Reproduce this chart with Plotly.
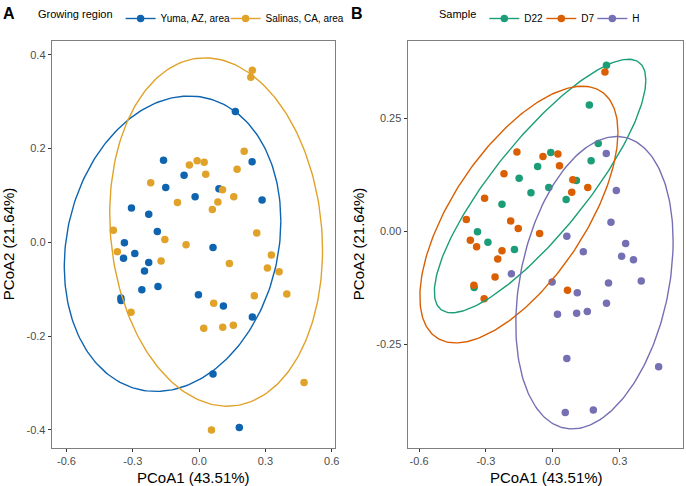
import numpy as np
import plotly.graph_objects as go

# ---------------- data (PCoA coordinates) ----------------
# Salinas, CA samples
sal_pc1 = [0.241, 0.234, 0.204, -0.044, -0.009, 0.023, 0.030, 0.172, -0.219, 0.106,
           0.157, -0.098, 0.085, 0.060, -0.388, 0.261, -0.155, -0.059, -0.370, 0.327,
           -0.172, 0.137, 0.309, 0.362, 0.397, 0.250, -0.308, 0.066, 0.021, 0.107,
           0.155, 0.475, 0.056]
sal_pc2 = [0.367, 0.352, 0.194, 0.165, 0.174, 0.171, 0.145, 0.156, 0.127, 0.112,
           0.097, 0.085, 0.086, 0.070, 0.026, 0.020, 0.006, -0.005, -0.020, -0.027,
           -0.040, -0.045, -0.055, -0.063, -0.110, -0.114, -0.149, -0.130, -0.183, -0.181,
           -0.177, -0.299, -0.400]
sal_sample = ["D22", "D7", "D22", "D7", "D22", "D7", "D7", "D22", "D7", "D22",
              "D7", "D22", "D7", "D22", "D7", "H", "D7", "D7", "D7", "H",
              "D22", "H", "H", "H", "H", "H", "D7", "D7", "H", "H",
              "H", "H", "H"]
# Yuma, AZ samples
yum_pc1 = [0.164, -0.161, 0.240, -0.068, -0.151, 0.090, -0.018, 0.285, -0.306, -0.228,
           -0.189, -0.338, -0.291, -0.342, 0.063, -0.228, -0.247, -0.259, -0.186, -0.354,
           -0.353, -0.003, 0.110, 0.241, 0.063, 0.182]
yum_pc2 = [0.279, 0.175, 0.172, 0.143, 0.117, 0.114, 0.097, 0.090, 0.073, 0.060,
           0.023, -0.001, -0.024, -0.034, -0.011, -0.043, -0.061, -0.101, -0.094, -0.119,
           -0.124, -0.112, -0.136, -0.159, -0.281, -0.395]
yum_sample = ["D22", "D7", "H", "D22", "D22", "D7", "D22", "H", "D7", "D22",
              "D7", "D22", "D22", "D7", "H", "D7", "D7", "D7", "H", "D7",
              "D22", "H", "H", "H", "H", "H"]

pc1 = sal_pc1 + yum_pc1
pc2 = sal_pc2 + yum_pc2
region = ["Salinas, CA, area"] * len(sal_pc1) + ["Yuma, AZ, area"] * len(yum_pc1)
sample = sal_sample + yum_sample

region_levels = ["Yuma, AZ, area", "Salinas, CA, area"]
sample_levels = ["D22", "D7", "H"]

# 95% ellipse summaries per group: centre x, centre y, sd x, sd y, correlation
region_ellipse = {
    "Yuma, AZ, area": [-0.120, -0.003, 0.490, 0.315, 0.153],
    "Salinas, CA, area": [0.077, 0.022, 0.4815, 0.3715, -0.104],
}
sample_ellipse = {
    "D22": [-0.057, 0.100, 0.4745, 0.280, 0.835],
    "D7": [-0.152, 0.037, 0.4445, 0.2835, 0.64],
    "H": [0.187, -0.1135, 0.353, 0.323, 0.283],
}

xtick_vals_A = [-0.6, -0.3, 0.0, 0.3, 0.6]
xtick_text_A = ["-0.6", "-0.3", "0.0", "0.3", "0.6"]
ytick_vals_A = [-0.4, -0.2, 0.0, 0.2, 0.4]
ytick_text_A = ["-0.4", "-0.2", "0.0", "0.2", "0.4"]
xtick_vals_B = [-0.6, -0.3, 0.0, 0.3]
xtick_text_B = ["-0.6", "-0.3", "0.0", "0.3"]
ytick_vals_B = [-0.25, 0.0, 0.25]
ytick_text_B = ["-0.25", "0.00", "0.25"]

x_title = "PCoA1 (43.51%)"
y_title = "PCoA2 (21.64%)"

# ---------------- styles ----------------
region_colors = {"Yuma, AZ, area": "#0F64B0", "Salinas, CA, area": "#E0A228"}
sample_colors = {"D22": "#1B9E77", "D7": "#D95F02", "H": "#7570B3"}
region_legend_width = {"Yuma, AZ, area": 60, "Salinas, CA, area": None}
sample_legend_width = {"D22": 12, "D7": 6, "H": None}
FONT = "Liberation Sans, Arial, sans-serif"


def ellipse(cx, cy, sx, sy, rho, n=240):
    t = np.linspace(0, 2 * np.pi, n)
    x = cx + sx * np.cos(t)
    y = cy + sy * (rho * np.cos(t) + np.sqrt(1 - rho ** 2) * np.sin(t))
    return x, y


fig = go.Figure()

pc1_a = np.array(pc1)
pc2_a = np.array(pc2)
region_a = np.array(region)
sample_a = np.array(sample)

# Panel A
for lev in region_levels:
    m = region_a == lev
    fig.add_trace(go.Scatter(x=pc1_a[m], y=pc2_a[m], mode="markers",
                             marker=dict(color=region_colors[lev], size=7.5),
                             showlegend=False, xaxis="x", yaxis="y", hoverinfo="skip"))
for lev in region_levels:
    ex, ey = ellipse(*region_ellipse[lev])
    fig.add_trace(go.Scatter(x=ex, y=ey, mode="lines",
                             line=dict(color=region_colors[lev], width=1.4),
                             showlegend=False, xaxis="x", yaxis="y", hoverinfo="skip"))
for lev in region_levels:
    fig.add_trace(go.Scatter(x=[None], y=[None], mode="lines+markers", name=lev,
                             line=dict(color=region_colors[lev], width=1.4),
                             marker=dict(color=region_colors[lev], size=7.5),
                             legend="legend", legendwidth=region_legend_width[lev],
                             xaxis="x", yaxis="y"))

# Panel B
for lev in sample_levels:
    m = sample_a == lev
    fig.add_trace(go.Scatter(x=pc1_a[m], y=pc2_a[m], mode="markers",
                             marker=dict(color=sample_colors[lev], size=7.5),
                             showlegend=False, xaxis="x2", yaxis="y2", hoverinfo="skip"))
for lev in sample_levels:
    ex, ey = ellipse(*sample_ellipse[lev])
    fig.add_trace(go.Scatter(x=ex, y=ey, mode="lines",
                             line=dict(color=sample_colors[lev], width=1.4),
                             showlegend=False, xaxis="x2", yaxis="y2", hoverinfo="skip"))
for lev in sample_levels:
    fig.add_trace(go.Scatter(x=[None], y=[None], mode="lines+markers", name=lev,
                             line=dict(color=sample_colors[lev], width=1.4),
                             marker=dict(color=sample_colors[lev], size=7.5),
                             legend="legend2", legendwidth=sample_legend_width[lev],
                             xaxis="x2", yaxis="y2"))

W, H = 686, 486
ydom = [1 - 447.7 / H, 1 - 40.7 / H]
xdomA = [51.7 / W, 335 / W]
xdomB = [407.5 / W, 682.7 / W]

axis_common = dict(showgrid=False, zeroline=False, showline=True, mirror=True,
                   linecolor="#7F7F7F", linewidth=1, ticks="outside", ticklen=3,
                   tickcolor="#333333", tickwidth=1,
                   tickfont=dict(family=FONT, size=11, color="#4D4D4D"),
                   automargin=False)
title_font = dict(family=FONT, size=15, color="#000000")

annotations = [
    dict(text="<b>A</b>", x=1 / W, y=1 - 3 / H, xanchor="left", yanchor="top",
         font=dict(family=FONT, size=16, color="#000000")),
    dict(text="<b>B</b>", x=349 / W, y=1 - 3 / H, xanchor="left", yanchor="top",
         font=dict(family=FONT, size=16, color="#000000")),
    # axis titles
    dict(text=x_title, x=sum(xdomA) / 2, y=1 - 477.3 / H, xanchor="center", yanchor="middle",
         font=title_font),
    dict(text=x_title, x=546 / W, y=1 - 477.3 / H, xanchor="center", yanchor="middle",
         font=title_font),
    dict(text=y_title, x=8 / W, y=sum(ydom) / 2, xanchor="center", yanchor="middle",
         textangle=-90, font=title_font),
    dict(text=y_title, x=358 / W, y=sum(ydom) / 2, xanchor="center", yanchor="middle",
         textangle=-90, font=title_font),
]
for a in annotations:
    a.update(xref="paper", yref="paper", showarrow=False)

fig.update_layout(
    width=W, height=H,
    margin=dict(l=0, r=0, t=0, b=0),
    paper_bgcolor="white", plot_bgcolor="white",
    font=dict(family=FONT),
    xaxis=dict(domain=xdomA, range=[-0.667, 0.615], anchor="y",
               tickvals=xtick_vals_A, ticktext=xtick_text_A, **axis_common),
    yaxis=dict(domain=ydom, range=[-0.438, 0.43], anchor="x",
               tickvals=ytick_vals_A, ticktext=ytick_text_A, **axis_common),
    xaxis2=dict(domain=xdomB, range=[-0.652, 0.583], anchor="y2",
                tickvals=xtick_vals_B, ticktext=xtick_text_B, **axis_common),
    yaxis2=dict(domain=ydom, range=[-0.478, 0.421], anchor="x2",
                tickvals=ytick_vals_B, ticktext=ytick_text_B, **axis_common),
    legend=dict(orientation="h", x=36 / W, y=1 - 4 / H, xanchor="left", yanchor="top",
                title=dict(text="Growing region", side="left",
                           font=dict(family=FONT, size=11, color="#000000")),
                font=dict(family=FONT, size=10, color="#000000"),
                bgcolor="rgba(0,0,0,0)", itemwidth=30, tracegroupgap=0),
    legend2=dict(orientation="h", x=437 / W, y=1 - 4 / H, xanchor="left", yanchor="top",
                 title=dict(text="Sample", side="left",
                            font=dict(family=FONT, size=11, color="#000000")),
                 font=dict(family=FONT, size=10, color="#000000"),
                 bgcolor="rgba(0,0,0,0)", itemwidth=30, tracegroupgap=0),
    annotations=annotations,
)

fig.write_html("out.html", config={"displayModeBar": False},
               post_script="document.body.style.margin='0';document.body.style.overflow='hidden';")
